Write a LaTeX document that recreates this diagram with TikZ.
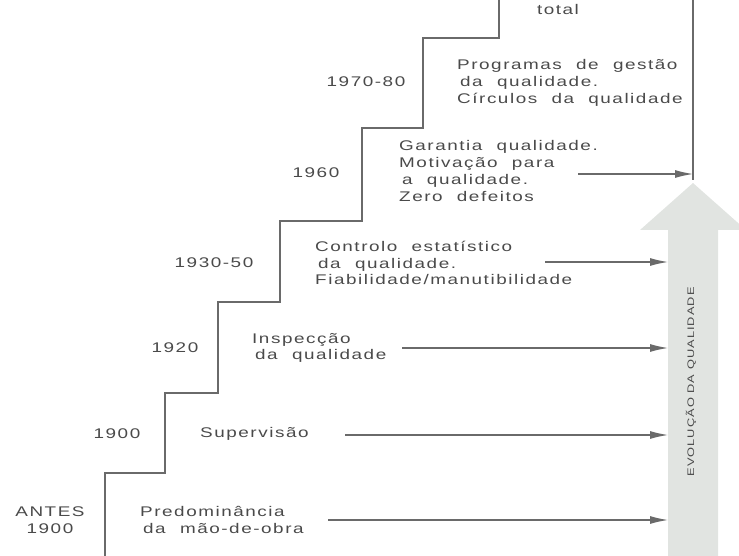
\documentclass[tikz,border=0pt]{standalone}
\usepackage{fontspec}
\setmainfont{Liberation Sans}[FakeStretch=1.35,LetterSpace=11,WordSpace=2.1]
\newfontfamily\setafont{Liberation Sans}[FakeStretch=1.35,LetterSpace=11]
\usetikzlibrary{arrows.meta}

\definecolor{tinta}{HTML}{4A4A4A}
\definecolor{traco}{HTML}{6A6A6A}
\definecolor{fundo}{HTML}{E1E4E1}

\begin{document}
\begin{tikzpicture}[x=1pt, y=-1pt,
  every node/.style={color=tinta, inner sep=0pt, font=\fontsize{14}{16.8}\selectfont},
  etapa/.style={align=left, anchor=west},
  ano/.style={align=center},
  ligacao/.style={draw=traco, line width=1.2pt, -{Latex[length=18pt,width=8pt]}}]
\useasboundingbox (0,0) rectangle (739,556);

% escada
\draw[traco, line width=1.4pt] (105,560) |- (165,473) |- (218,393) |- (280,302) |- (362,221) |- (423,128) |- (499,38) -- (499,-4);

% seta grande
\fill[fundo] (668,560) -- (668,230) -- (640,230) -- (693,183) -- (746,230) -- (718,230) -- (718,560) -- cycle;
\node[rotate=90, font=\setafont\fontsize{9.5}{11}\selectfont] (evolucao) at (691,382) {EVOLUÇÃO DA QUALIDADE};
\coordinate (haste) at (668,0);

% linha de topo
\coordinate (linha topo) at (693,-4);
\coordinate (linha fim) at (693,180);
\draw[traco, line width=1.2pt] (linha topo) -- (linha fim);

% anos
\node[anchor=base] (total) at (558,15) {total};
\node[ano] (1970-80) at (366,82) {1970-80};
\node[ano] (1960) at (316,173) {1960};
\node[ano] (1930-50) at (214,263) {1930-50};
\node[ano] (1920) at (175,348) {1920};
\node[ano] (1900) at (117,434) {1900};
\node[ano] (antes 1900) at (50,520) {ANTES\\1900};

% etapas
\node[etapa] (programas) at (457,83) {Programas de gestão\\\hspace{3pt}da qualidade.\\Círculos da qualidade};
\node[etapa] (garantia) at (399,171) {Garantia qualidade.\\Motivação para\\\hspace{3pt}a qualidade.\\Zero defeitos};
\node[etapa] (controlo) at (315,263) {Controlo estatístico\\\hspace{3pt}da qualidade.\\Fiabilidade/manutibilidade};
\node[etapa] (inspeccao) at (252,348) {Inspecção\\\hspace{3pt}da qualidade};
\node[etapa] (supervisao) at (200,434) {Supervisão};
\node[etapa] (predominancia) at (140,520) {Predominância\\\hspace{3pt}da mão-de-obra};

% setas
\coordinate (garantia seta) at (578,174);
\coordinate (controlo seta) at (545,262);
\coordinate (inspeccao seta) at (402,348);
\coordinate (supervisao seta) at (345,435);
\coordinate (predominancia seta) at (328,520);

\draw[ligacao] (garantia seta) -- (linha fim |- garantia seta);
\draw[ligacao] (controlo seta) -- (haste |- controlo seta);
\draw[ligacao] (inspeccao seta) -- (haste |- inspeccao seta);
\draw[ligacao] (supervisao seta) -- (haste |- supervisao seta);
\draw[ligacao] (predominancia seta) -- (haste |- predominancia seta);
\end{tikzpicture}
\end{document}
